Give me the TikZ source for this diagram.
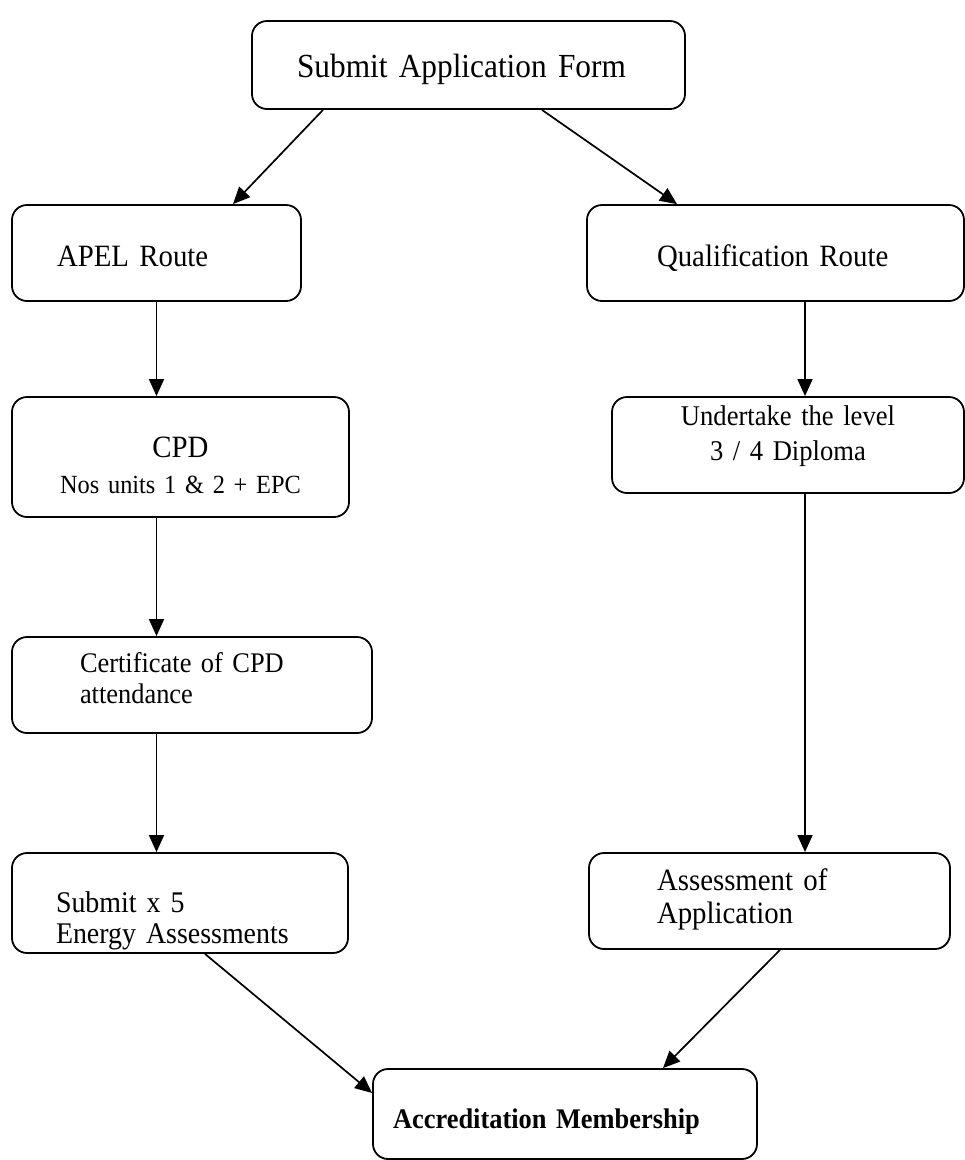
\documentclass[tikz,border=0pt]{standalone}
\usepackage{fontspec}
\setmainfont{Liberation Serif}[FakeStretch=0.93,WordSpace=0.7]
\usetikzlibrary{arrows.meta}

\tikzset{
  box/.style={draw, line width=1.8pt, rounded corners=15pt, inner ysep=0pt, minimum height=96pt},
  flow/.style={line width=1.7pt, -{Triangle[length=17pt,width=15pt]}}
}

\begin{document}
\begin{tikzpicture}[x=1pt,y=-1pt]
  \useasboundingbox (0,0) rectangle (965,1160);
  %top
  \node[box, minimum height=88pt, inner xsep=45pt, text width=343pt, align=left,
        text height=30pt, text depth=6pt, font=\fontsize{33.7}{40}\selectfont]
        (form) at (468.5,65) {Submit Application Form};
  % the two routes
  \node[box, inner xsep=45pt, text width=199pt, align=left,
        text height=30pt, text depth=4pt, font=\fontsize{31}{36}\selectfont]
        (apel) at (156.5,253) {APEL Route};
  \node[box, inner xsep=70pt, text width=237pt, align=left,
        text height=30pt, text depth=4pt, font=\fontsize{31}{36}\selectfont]
        (qual) at (775.5,253) {Qualification Route};
  \node[box, minimum height=120pt, inner xsep=10pt, text width=317pt, align=center,
        text height=40pt, text depth=40pt, font=\fontsize{26.2}{36}\selectfont]
        (cpd) at (180.5,457) {{\fontsize{31}{36}\selectfont CPD}\\Nos units 1 \& 2 + EPC};
  \node[box, inner xsep=10pt, text width=332pt, align=center,
        text height=20pt, text depth=60pt, font=\fontsize{28.6}{35}\selectfont]
        (undertake) at (788,445) {Undertake the level\\3 / 4 Diploma};
  \node[box, inner xsep=68pt, text width=224pt, align=left,
        text height=25pt, text depth=51pt, font=\fontsize{28.4}{31}\selectfont]
        (cert) at (192,685) {Certificate of CPD\\attendance};
  \node[box, minimum height=100pt, inner xsep=44pt, text width=248pt, align=left,
        text height=40pt, text depth=22pt, font=\fontsize{30}{31}\selectfont]
        (submit) at (180,903) {Submit x 5\\Energy Assessments};
  \node[box, inner xsep=68pt, text width=225pt, align=left,
        text height=30pt, text depth=52pt, font=\fontsize{31}{33}\selectfont]
        (assess) at (769.5,901) {Assessment of\\Application};
  % end
  \node[box, minimum height=90pt, inner xsep=20pt, text width=344pt, align=left,
        text height=34pt, text depth=6pt, font=\bfseries\fontsize{28.4}{34}\selectfont]
        (accred) at (565,1114) {Accreditation Membership};

  \coordinate (qcol) at ([xshift=29.5pt]qual.south);
  \draw[flow] ([xshift=-145.5pt]form.south) -- ([xshift=76.5pt]apel.north);
  \draw[flow] ([xshift=73.5pt]form.south) -- ([xshift=-98.5pt]qual.north);
  \draw[flow] (apel.south) -- (apel.south |- cpd.north);
  \draw[flow] (apel.south |- cpd.south) -- (apel.south |- cert.north);
  \draw[flow] (apel.south |- cert.south) -- (apel.south |- submit.north);
  \draw[flow] (qcol) -- (qcol |- undertake.north);
  \draw[flow] (qcol |- undertake.south) -- (qcol |- assess.north);
  \draw[flow] ([xshift=25pt]submit.south) -- ([yshift=21pt]accred.west);
  \draw[flow] ([xshift=10.5pt]assess.south) -- ([xshift=98pt]accred.north);
\end{tikzpicture}
\end{document}
